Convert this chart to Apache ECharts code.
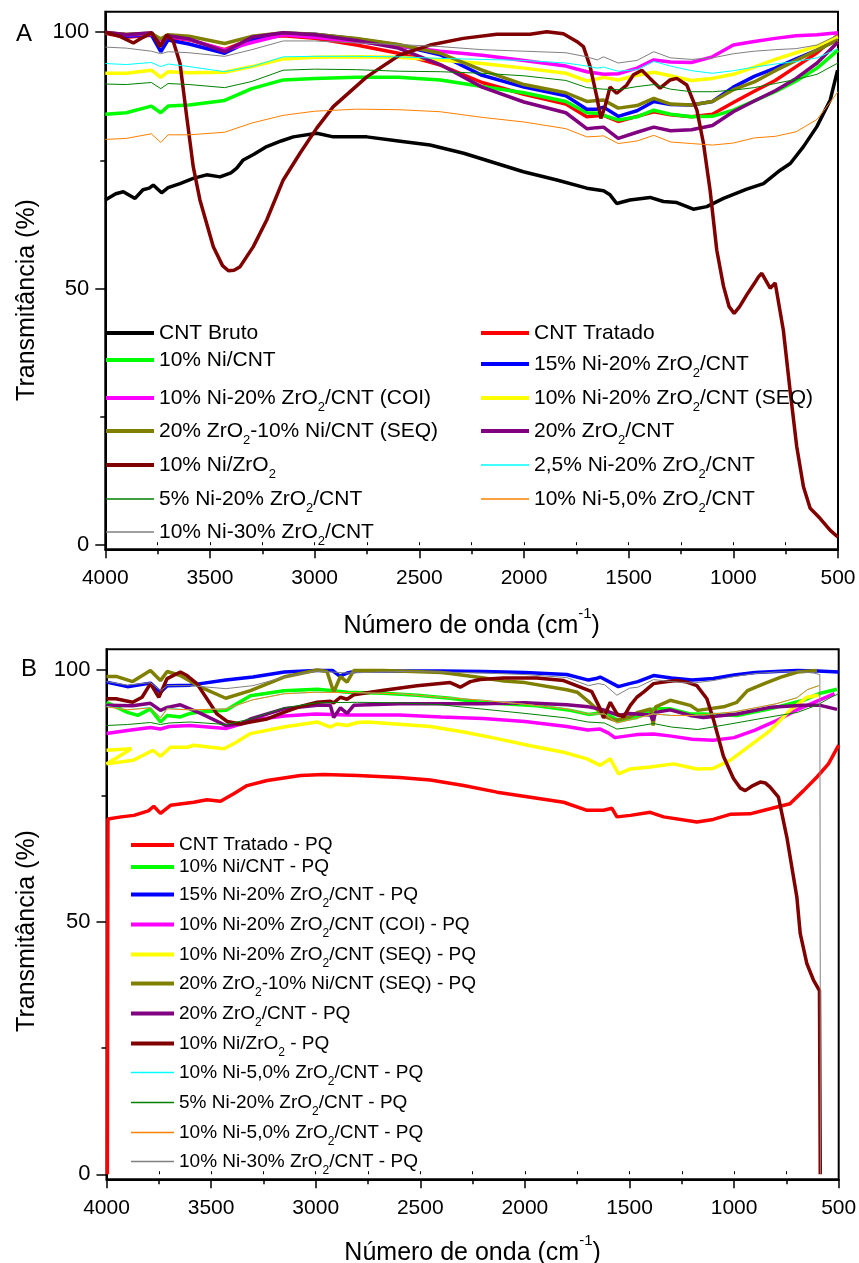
<!DOCTYPE html>
<html><head><meta charset="utf-8">
<script src="https://cdn.jsdelivr.net/npm/echarts@6/dist/echarts.min.js"></script>
<style>html,body{margin:0;padding:0;background:#fff}#c{width:859px;height:1263px}</style>
</head><body><div id="c"></div>
<script>
// ---------------- DATA (wavenumber cm-1, transmittance %) ----------------
const Y_LABELS = [0, 50, 100];
const Y_MINOR = [25, 75];

// Panel A shared wavenumber grid
const WN_A = [4000,3900,3780,3735,3700,3600,3430,3300,3150,3000,2800,2600,2400,2200,2000,1800,1700,1650,1620,1550,1460,1380,1300,1200,1100,1000,900,800,700,600,500];

const A_bruto = [[4000,67.3],[3950,68.5],[3914,68.9],[3858,67.6],[3820,69.3],[3790,69.6],[3771,70.2],[3731,68.7],[3700,69.7],[3643,70.5],[3580,71.5],[3516,72.2],[3452,71.8],[3400,72.6],[3372,73.5],[3341,75.1],[3290,76.2],[3229,77.7],[3160,78.8],[3102,79.6],[2990,80.3],[2911,79.6],[2751,79.6],[2600,78.8],[2449,78.0],[2288,76.4],[2130,74.4],[2003,72.8],[1843,71.2],[1700,69.6],[1620,69.1],[1589,68.3],[1557,66.6],[1494,67.3],[1398,67.8],[1334,67.0],[1270,66.8],[1191,65.5],[1127,66.0],[1047,67.6],[936,69.4],[856,70.5],[776,73.1],[728,74.4],[665,77.7],[601,81.6],[537,86.8],[502,92.6]];
const A_tratado = [99.8,99.0,99.4,97.5,99.0,98.5,96.6,98.7,99.3,98.8,97.5,95.9,93.6,90.2,87.9,86.0,83.5,83.7,83.8,82.6,83.6,84.5,83.9,83.5,84.0,86.3,88.5,90.6,93.3,96.0,99.5];
const A_niCnt = [84.0,84.3,85.6,84.3,85.6,85.8,86.7,89.0,90.7,91.0,91.2,91.2,90.7,89.4,88.2,86.5,84.3,84.2,83.8,82.9,83.5,84.8,84.0,83.5,83.6,84.8,86.6,88.4,90.5,93.0,96.5];
const A_ni15 = [99.9,99.2,99.5,96.2,98.5,97.7,95.9,98.5,99.8,99.6,98.7,97.5,95.6,91.6,89.3,87.6,85.0,85.0,85.4,83.6,84.7,86.5,85.9,85.8,86.5,89.3,91.4,93.0,94.8,96.5,98.8];
const A_coi = [99.9,99.5,99.6,98.5,99.2,98.6,96.5,98.0,99.5,99.0,98.2,97.3,96.3,95.5,94.5,93.4,92.3,92.0,91.8,91.9,93.0,94.6,94.2,94.1,95.2,97.5,98.2,98.8,99.3,99.5,99.9];
const A_seq = [92.0,92.0,92.6,91.2,92.3,92.1,92.2,93.3,94.8,95.1,95.2,95.1,94.6,93.9,93.0,92.0,90.5,90.9,91.2,90.7,91.6,92.2,91.5,90.6,91.0,91.8,93.2,94.7,96.0,97.3,99.1];
const A_zrNiSeq = [99.9,99.6,99.8,98.7,99.5,99.2,97.8,99.2,99.9,99.6,98.8,97.6,95.9,92.6,89.8,88.2,86.5,86.7,86.8,85.2,85.7,87.1,86.0,85.8,86.5,88.8,90.3,92.5,94.5,96.5,98.5];
const A_zr20 = [100.0,99.5,99.9,97.4,99.3,98.7,96.2,99.0,99.9,99.5,98.4,96.9,93.7,89.3,86.4,84.3,81.2,81.4,81.5,79.3,80.5,81.5,80.8,81.0,81.8,84.5,86.6,88.6,91.0,94.0,98.1];
const A_niZr = [[4000,100],[3930,99.2],[3866,97.9],[3820,99.0],[3778,99.9],[3739,97.2],[3707,99.5],[3675,98.2],[3643,93.9],[3611,83.5],[3580,73.8],[3548,67.3],[3484,58.2],[3440,54.5],[3412,53.5],[3385,53.6],[3356,54.3],[3293,58.2],[3229,63.4],[3150,71.2],[3070,76.4],[2990,81.3],[2911,85.5],[2751,91.3],[2592,95.6],[2449,97.5],[2290,98.8],[2130,99.6],[1971,99.6],[1891,100.1],[1812,99.7],[1748,98.2],[1716,97.2],[1684,93.3],[1652,87.4],[1633,83.2],[1613,85.5],[1589,89.3],[1557,88.1],[1509,89.7],[1477,91.7],[1437,92.6],[1398,91.0],[1350,89.1],[1302,90.7],[1270,91.0],[1222,89.7],[1174,84.8],[1143,78.4],[1111,69.2],[1079,57.5],[1047,50.5],[1020,46.5],[996,45.2],[970,46.5],[936,48.8],[900,51.0],[880,52.3],[864,53.0],[824,50.1],[800,51.1],[792,51.0],[761,41.9],[729,30.2],[697,19.2],[665,11.4],[633,7.2],[585,5.2],[537,2.9],[501,1.6]];
const A_ni25 = [93.9,93.7,94.1,93.3,93.8,93.3,92.3,93.3,95.2,95.3,95.3,95.2,94.9,94.7,94.5,94.0,93.4,93.0,93.2,92.4,92.7,94.3,93.4,92.5,92.0,92.5,93.2,93.8,94.3,95.0,96.8];
const A_ni5 = [89.9,89.8,90.2,89.0,90.0,89.8,89.2,90.4,92.6,92.8,92.7,92.4,92.3,92.0,91.5,90.6,89.2,89.0,88.9,88.8,89.4,89.8,88.9,88.4,88.4,88.7,89.2,90.0,90.8,91.8,94.0];
const A_zr5 = [79.1,79.3,80.2,78.5,80.0,80.0,80.5,82.3,83.8,84.6,85.0,84.9,84.5,83.4,82.5,81.2,79.6,79.7,79.8,78.3,78.8,79.9,78.6,78.3,78.0,78.4,79.4,79.7,80.6,83.0,88.4];
const A_zr30 = [97.1,96.9,96.3,95.8,96.2,96.0,95.3,96.6,98.3,98.3,97.9,97.6,97.2,96.6,96.3,96.0,95.2,94.6,95.2,94.0,94.5,96.2,95.0,94.7,95.0,95.8,96.3,96.6,96.8,97.5,99.5];

// Panel B (after reaction, "PQ")
const B_tratado = [[3996,0],[3993,70.4],[3930,70.8],[3869,71.1],[3800,72.0],[3774,72.9],[3742,71.5],[3694,73.1],[3583,73.7],[3520,74.2],[3455,73.9],[3392,75.4],[3328,77.0],[3232,78.0],[3073,79.0],[2962,79.2],[2800,79.0],[2600,78.6],[2452,78.1],[2293,77.0],[2133,75.7],[1974,74.7],[1815,73.7],[1703,72.1],[1624,72.1],[1584,72.5],[1560,70.8],[1496,71.1],[1401,71.7],[1337,70.8],[1178,69.8],[1100,70.3],[1019,71.3],[924,71.4],[828,72.4],[733,73.4],[668,76.0],[604,78.7],[549,81.3],[500,85.0]];
const B_niCnt = [[4000,93.5],[3950,92.5],[3900,91.5],[3850,90.9],[3790,92.2],[3742,89.6],[3710,90.9],[3647,90.6],[3600,91.3],[3550,91.6],[3430,91.9],[3312,94.8],[3152,95.8],[2993,96.1],[2914,95.8],[2850,95.5],[2675,95.3],[2516,94.9],[2357,94.3],[2213,93.5],[2102,93.2],[1943,92.8],[1783,91.9],[1696,91.1],[1624,91.5],[1553,89.9],[1465,90.5],[1385,92.2],[1305,92.2],[1210,91.2],[1146,91.2],[987,90.9],[828,92.2],[668,93.9],[588,95.3],[508,96.1]];
const B_ni15 = [[4000,97.5],[3900,96.6],[3790,97.3],[3742,95.5],[3710,96.8],[3600,96.9],[3430,97.9],[3300,98.5],[3150,99.5],[3000,99.8],[2920,99.8],[2885,98.7],[2850,99.3],[2800,99.7],[2600,99.7],[2400,99.7],[2200,99.6],[2000,99.4],[1800,99.0],[1696,97.9],[1660,98.2],[1640,98.5],[1553,96.6],[1500,97.2],[1460,97.6],[1385,98.8],[1300,98.3],[1200,97.9],[1100,98.2],[1000,98.9],[900,99.4],[800,99.6],[700,99.8],[600,99.7],[500,99.5]];
const B_coi = [[4000,87.3],[3900,87.9],[3790,88.5],[3742,88.2],[3700,88.7],[3600,88.9],[3430,88.3],[3350,89.3],[3300,90.0],[3150,90.8],[3000,91.2],[2920,91.1],[2850,91.0],[2600,91.0],[2400,90.6],[2200,90.3],[2000,89.7],[1800,88.7],[1700,88.0],[1640,88.2],[1600,87.4],[1570,86.5],[1500,86.9],[1460,87.1],[1385,87.2],[1300,86.8],[1200,86.2],[1100,86.0],[1000,86.5],[900,88.0],[800,89.8],[700,92.0],[600,93.8],[520,95.2]];
const B_seq = [[4000,84.0],[3881,84.3],[4000,81.3],[3873,82.0],[3778,84.0],[3742,82.8],[3694,84.6],[3614,84.6],[3583,85.0],[3439,84.3],[3392,85.3],[3312,87.3],[3153,88.6],[2993,89.6],[2930,88.6],[2900,89.2],[2850,88.9],[2800,89.5],[2754,89.6],[2452,88.7],[2293,87.6],[2133,86.3],[1974,84.9],[1815,83.6],[1703,82.3],[1640,81.0],[1592,82.3],[1552,79.3],[1496,80.3],[1401,80.7],[1289,81.3],[1178,80.3],[1100,80.4],[1019,82.0],[924,84.9],[828,87.9],[733,91.9],[652,94.5],[596,94.9]];
const B_zrNiSeq = [[4000,98.6],[3950,98.6],[3875,97.6],[3790,99.8],[3742,97.8],[3710,99.6],[3647,98.8],[3550,96.5],[3430,94.3],[3312,95.8],[3152,98.5],[2993,99.9],[2946,99.6],[2914,95.5],[2882,98.6],[2850,97.5],[2818,99.8],[2675,99.8],[2400,99.4],[2357,99.2],[2213,98.4],[2100,97.7],[2000,97.4],[1800,96.0],[1750,95.5],[1700,93.8],[1650,91.9],[1620,90.7],[1570,89.9],[1500,90.6],[1460,91.5],[1398,92.2],[1387,88.9],[1375,92.6],[1305,93.9],[1210,92.9],[1174,91.9],[1050,92.6],[987,93.5],[936,95.8],[856,97.2],[776,98.5],[697,99.5],[604,99.8]];
const B_zr20 = [[4000,92.9],[3875,92.8],[3790,93.3],[3742,91.9],[3710,92.5],[3647,93.0],[3550,91.3],[3430,88.9],[3360,89.2],[3312,90.2],[3152,92.2],[2993,92.9],[2930,92.9],[2914,90.5],[2882,92.4],[2850,91.3],[2818,92.9],[2600,93.2],[2400,93.2],[2200,93.2],[2000,93.4],[1800,93.0],[1696,92.6],[1624,92.0],[1553,90.9],[1500,91.3],[1400,91.0],[1387,89.9],[1375,91.5],[1305,92.0],[1210,90.9],[1146,90.5],[987,91.2],[828,92.5],[668,92.9],[588,92.9],[508,92.1]];
const B_niZr = [[4000,94.2],[3955,94.2],[3875,93.5],[3830,94.5],[3790,97.2],[3750,94.5],[3710,98.2],[3647,99.5],[3615,98.8],[3568,97.2],[3520,94.2],[3472,91.2],[3423,89.7],[3360,89.2],[3312,89.6],[3232,90.2],[3152,91.5],[3073,92.7],[2993,93.5],[2930,93.7],[2914,93.4],[2882,94.5],[2850,94.1],[2818,95.0],[2675,95.9],[2516,96.8],[2357,97.4],[2309,96.5],[2261,97.6],[2213,98.0],[2102,98.3],[1943,98.3],[1815,97.8],[1735,96.5],[1680,95.6],[1640,92.2],[1624,90.4],[1592,93.5],[1560,91.2],[1528,90.6],[1496,92.9],[1465,94.5],[1433,95.5],[1385,97.2],[1337,97.5],[1273,97.8],[1226,97.5],[1178,96.8],[1130,94.2],[1098,90.0],[1051,82.8],[1003,78.4],[970,76.5],[947,76.0],[910,77.0],[875,77.7],[850,77.5],[828,76.7],[788,74.7],[748,66.8],[700,54.9],[684,47.7],[652,41.7],[620,38.4],[592,36.4],[588,0]];
const B_zr5a = [[4000,92.7],[3900,92.0],[3790,92.5],[3742,90.5],[3710,92.3],[3600,92.0],[3430,92.2],[3300,94.0],[3150,95.2],[3000,95.5],[2800,95.4],[2600,95.2],[2400,94.5],[2200,93.9],[2000,93.1],[1800,92.2],[1700,91.2],[1620,91.2],[1560,89.4],[1500,90.0],[1385,91.2],[1300,90.9],[1200,90.9],[1100,91.2],[1000,91.6],[900,92.4],[800,93.2],[700,94.4],[650,96.0],[595,96.8]];
const B_ni5 = [[4000,88.9],[3900,89.1],[3790,89.5],[3742,89.1],[3700,89.4],[3600,89.6],[3430,89.1],[3312,90.2],[3152,92.4],[2993,93.4],[2800,93.5],[2600,93.4],[2400,93.0],[2213,92.2],[2000,91.3],[1800,90.4],[1700,89.6],[1620,89.4],[1560,88.2],[1500,88.5],[1385,89.3],[1300,88.6],[1174,88.1],[1019,89.2],[856,90.4],[697,91.5],[600,93.0],[537,94.5],[500,95.2]];
const B_zr5b = [[4000,92.6],[3900,92.0],[3790,92.4],[3742,90.4],[3710,92.2],[3600,92.0],[3430,92.2],[3300,94.0],[3150,95.2],[3000,95.5],[2800,95.4],[2600,95.2],[2400,94.5],[2200,93.9],[2000,93.1],[1800,92.2],[1700,91.2],[1620,91.2],[1560,89.4],[1500,90.0],[1385,91.2],[1300,90.9],[1200,90.9],[1100,91.2],[1000,91.6],[900,92.4],[800,93.2],[700,94.4],[650,96.0],[595,96.8]];
const B_zr30 = [[4000,97.6],[3900,96.9],[3790,97.4],[3742,95.8],[3710,96.8],[3600,96.8],[3430,96.2],[3300,96.8],[3150,98.5],[3000,99.7],[2920,99.5],[2850,99.3],[2600,99.6],[2400,99.5],[2200,99.3],[2000,99.0],[1800,98.4],[1696,96.8],[1650,97.2],[1620,97.0],[1560,94.9],[1500,96.3],[1460,96.5],[1385,98.0],[1300,97.6],[1200,97.3],[1100,97.8],[1000,98.6],[900,99.2],[800,99.5],[700,99.6],[620,99.3],[590,99.0],[587,0]];

// ---------------- BUILD ----------------
function zip(wn, vals){ return wn.map((w,i)=>[w, vals[i]]); }
const FONT = "'Liberation Sans', Arial, sans-serif";
const THICK = 3.5, THIN = 1;

const defsA = [
  ['CNT Bruto', A_bruto, '#000000', THICK],
  ['CNT Tratado', zip(WN_A, A_tratado), '#FF0000', THICK],
  ['10% Ni/CNT', zip(WN_A, A_niCnt), '#00FF00', THICK],
  ['15% Ni-20% ZrO2/CNT', zip(WN_A, A_ni15), '#0000FF', THICK],
  ['10% Ni-20% ZrO2/CNT (COI)', zip(WN_A, A_coi), '#FF00FF', THICK],
  ['10% Ni-20% ZrO2/CNT (SEQ)', zip(WN_A, A_seq), '#FFFF00', THICK],
  ['20% ZrO2-10% Ni/CNT (SEQ)', zip(WN_A, A_zrNiSeq), '#808000', THICK],
  ['20% ZrO2/CNT', zip(WN_A, A_zr20), '#800080', THICK],
  ['10% Ni/ZrO2', A_niZr, '#800000', THICK],
  ['2,5% Ni-20% ZrO2/CNT', zip(WN_A, A_ni25), '#00FFFF', THIN],
  ['5% Ni-20% ZrO2/CNT', zip(WN_A, A_ni5), '#008000', THIN],
  ['10% Ni-5,0% ZrO2/CNT', zip(WN_A, A_zr5), '#FF8000', THIN],
  ['10% Ni-30% ZrO2/CNT', zip(WN_A, A_zr30), '#808080', THIN]
];
const defsB = [
  ['CNT Tratado - PQ', B_tratado, '#FF0000', THICK],
  ['10% Ni/CNT - PQ', B_niCnt, '#00FF00', THICK],
  ['15% Ni-20% ZrO2/CNT - PQ', B_ni15, '#0000FF', THICK],
  ['10% Ni-20% ZrO2/CNT (COI) - PQ', B_coi, '#FF00FF', THICK],
  ['10% Ni-20% ZrO2/CNT (SEQ) - PQ', B_seq, '#FFFF00', THICK],
  ['20% ZrO2-10% Ni/CNT (SEQ) - PQ', B_zrNiSeq, '#808000', THICK],
  ['20% ZrO2/CNT - PQ', B_zr20, '#800080', THICK],
  ['10% Ni/ZrO2 - PQ', B_niZr, '#800000', THICK],
  ['10% Ni-5,0% ZrO2/CNT - PQ ', B_zr5a, '#00FFFF', THIN],
  ['5% Ni-20% ZrO2/CNT - PQ', B_ni5, '#008000', THIN],
  ['10% Ni-5,0% ZrO2/CNT - PQ', B_zr5b, '#FF8000', THIN],
  ['10% Ni-30% ZrO2/CNT - PQ', B_zr30, '#808080', THIN]
];

// legend layout: [series name, left, row centre y]
const legPosA = [
  ['CNT Bruto',106,333],['10% Ni/CNT',106,360],['10% Ni-20% ZrO2/CNT (COI)',106,394],
  ['20% ZrO2-10% Ni/CNT (SEQ)',106,427],['10% Ni/ZrO2',106,461],['5% Ni-20% ZrO2/CNT',106,495],
  ['10% Ni-30% ZrO2/CNT',106,528],
  ['CNT Tratado',481,333],['15% Ni-20% ZrO2/CNT',481,360],['10% Ni-20% ZrO2/CNT (SEQ)',481,394],
  ['20% ZrO2/CNT',481,427],['2,5% Ni-20% ZrO2/CNT',481,461],['10% Ni-5,0% ZrO2/CNT',481,495]
];
const legRowsB = [845,867,891,921,951,980,1010,1040,1069,1099,1129,1158];

function richName(n){ return n.replace(/ZrO2/g, 'ZrO{s|2}'); }

const series = [];
defsA.forEach(d => series.push({type:'line', name:d[0], data:d[1], xAxisIndex:0, yAxisIndex:0,
  symbol:'none', showSymbol:false, lineStyle:{color:d[2], width:d[3]}, itemStyle:{color:d[2]}, color:d[2], animation:false}));
defsB.forEach(d => series.push({type:'line', name:d[0], data:d[1], xAxisIndex:2, yAxisIndex:2,
  symbol:'none', showSymbol:false, lineStyle:{color:d[2], width:d[3]}, itemStyle:{color:d[2]}, color:d[2], animation:false}));

function legendItem(name, left, cy, fs, iw, thick){
  return {data:[name], left:left, top:cy-12, padding:0, itemWidth:iw, itemHeight: thick ? 4 : 1.5,
    icon:'rect', selectedMode:false, formatter: richName,
    textStyle:{fontSize:fs, fontFamily:FONT, color:'#000', lineHeight:24,
      rich:{s:{fontSize:Math.round(fs*0.62), fontFamily:FONT, color:'#000', lineHeight:24, padding:[19,0,0,0]}}}};
}
const legends = [];
legPosA.forEach(p => {
  const d = defsA.find(x => x[0] === p[0]);
  legends.push(legendItem(p[0], p[1], p[2], 21, 48, d[3] === THICK));
});
defsB.forEach((d,i) => legends.push(legendItem(d[0], 131, legRowsB[i], 19, 43, d[3] === THICK)));

function xAxes(gi, nameGap){
  return [{
    type:'value', gridIndex:gi, position:'bottom', inverse:true, min:500, max:4000, interval:500,
    axisLine:{show:true, onZero:false, lineStyle:{color:'#000', width:2}},
    axisTick:{show:true, length:9, lineStyle:{color:'#000', width:1.5}},
    minorTick:{show:true, splitNumber:2, length:5, lineStyle:{color:'#000', width:1.5}},
    axisLabel:{color:'#000', fontSize:21, fontFamily:FONT, margin:18, formatter: v => String(v)},
    splitLine:{show:false}, minorSplitLine:{show:false},
    name:'Número de onda (cm{p|-1})', nameLocation:'middle', nameGap:nameGap,
    nameTextStyle:{color:'#000', fontSize:25, fontFamily:FONT, lineHeight:30,
      rich:{p:{fontSize:15, fontFamily:FONT, color:'#000', lineHeight:30, padding:[0,0,24,0]}}}
  },{
    type:'value', gridIndex:gi, position:'top', inverse:true, min:500, max:4000, interval:500,
    axisLine:{show:false}, axisTick:{show:true, length:3, lineStyle:{color:'#000', width:1}},
    minorTick:{show:true, splitNumber:2, length:3, lineStyle:{color:'#000', width:1}},
    axisLabel:{show:false}, splitLine:{show:false}, minorSplitLine:{show:false}
  }];
}
function yAxes(gi, min){
  return [{
    type:'value', gridIndex:gi, position:'left', min:min, max:104,
    axisLine:{show:true, onZero:false, lineStyle:{color:'#000', width:2}},
    axisTick:{show:true, length:10, customValues:Y_LABELS, lineStyle:{color:'#000', width:1.5}},
    axisLabel:{color:'#000', fontSize:22, fontFamily:FONT, margin:16, customValues:Y_LABELS, formatter: v => String(v)},
    splitLine:{show:false}
  },{
    type:'value', gridIndex:gi, position:'left', min:min, max:104,
    axisLine:{show:false},
    axisTick:{show:true, length:5, customValues:Y_MINOR, lineStyle:{color:'#000', width:1.5}},
    axisLabel:{show:false}, splitLine:{show:false}
  }];
}

const option = {
  backgroundColor:'#fff',
  animation:false,
  grid:[
    {left:105.3, top:11.7, width:732.7, height:537.6, show:true, borderColor:'#000', borderWidth:2, backgroundColor:'transparent', containLabel:false, outerBoundsMode:'none'},
    {left:106.5, top:649.3, width:732.2, height:530, show:true, borderColor:'#000', borderWidth:2, backgroundColor:'transparent', containLabel:false, outerBoundsMode:'none'}
  ],
  xAxis: xAxes(0, 62).concat(xAxes(1, 59)),
  yAxis: yAxes(0, -0.8).concat(yAxes(1, -1)),
  legend: legends,
  series: series,
  graphic:[
    {type:'text', x:24, y:34, style:{text:'A', fontSize:24, fontFamily:FONT, fill:'#000', align:'center', verticalAlign:'middle'}},
    {type:'text', x:29, y:669, style:{text:'B', fontSize:24, fontFamily:FONT, fill:'#000', align:'center', verticalAlign:'middle'}},
    {type:'text', x:27, y:300, rotation:Math.PI/2, style:{text:'Transmitância (%)', fontSize:25, fontFamily:FONT, fill:'#000', align:'center', verticalAlign:'middle'}},
    {type:'text', x:27, y:931, rotation:Math.PI/2, style:{text:'Transmitância (%)', fontSize:25, fontFamily:FONT, fill:'#000', align:'center', verticalAlign:'middle'}}
  ]
};
const chart = echarts.init(document.getElementById('c'), null, {renderer:'canvas', width:859, height:1263, devicePixelRatio:1});
chart.setOption(option);
</script></body></html>
